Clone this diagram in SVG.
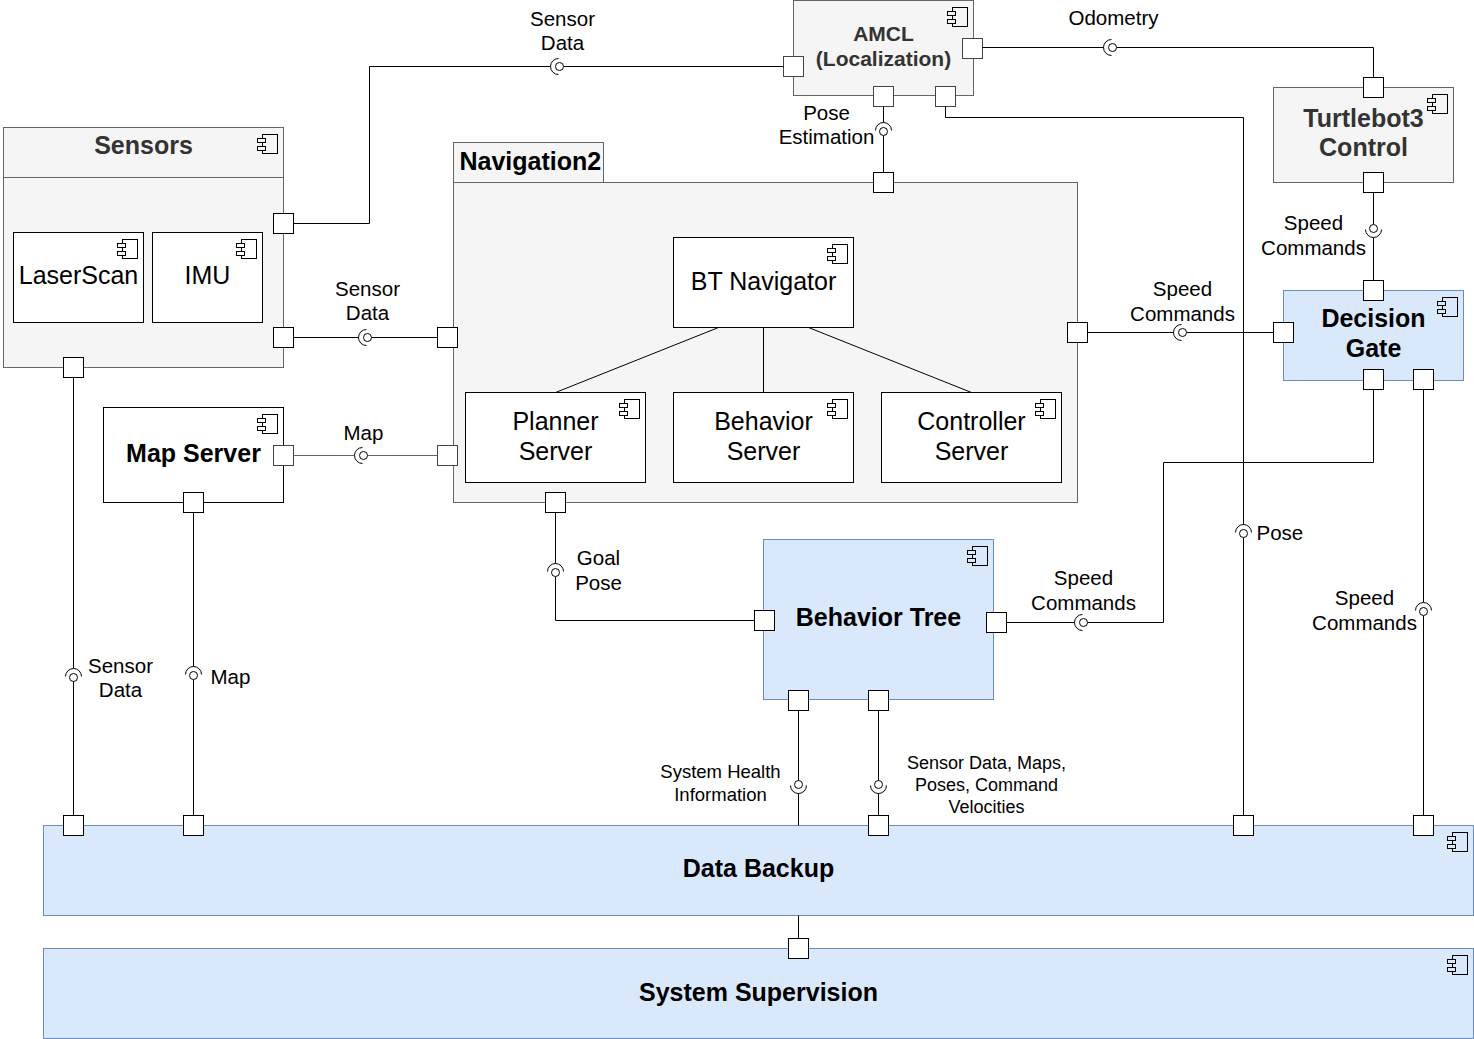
<svg xmlns="http://www.w3.org/2000/svg" xmlns:xlink="http://www.w3.org/1999/xlink" width="1474" height="1039" viewBox="0 0 1474 1039">
<style>
.grey{fill:#f5f5f5;stroke:#666666;stroke-width:1}
.blue{fill:#dae8fc;stroke:#6c8ebf;stroke-width:1}
.white{fill:#ffffff;stroke:#000000;stroke-width:1}
.port{fill:#ffffff;stroke:#000000;stroke-width:1}
.gport{fill:#ffffff;stroke:#444444;stroke-width:1}
.edge{fill:none;stroke:#000000;stroke-width:1}
.gedge{fill:none;stroke:#666666;stroke-width:1}
text{font-family:"Liberation Sans",Arial,Helvetica,sans-serif;text-anchor:middle;fill:#000000}
.n24{font-size:25px}
.b24{font-size:25px;font-weight:bold}
.b21{font-size:21px;font-weight:bold}
.dk{fill:#333333}
.l20{font-size:20.5px}
.l18{font-size:18.5px}
.l17{font-size:18px}
</style>
<defs>
<g id="icon">
<rect x="-21" y="7" width="15" height="19" stroke="#000000"/>
<rect x="-26" y="11" width="8" height="4" stroke="#000000"/>
<rect x="-26" y="19" width="8" height="4" stroke="#000000"/>
</g>
<g id="ifc">
<path d="M-1,-8 A8,8 0 0 0 -1,8" fill="none" stroke="#000000"/>
<circle r="4" fill="#ffffff" stroke="#000000"/>
</g>
</defs>
<rect x="0" y="0" width="1474" height="1039" fill="#ffffff"/>
<g transform="translate(0.5,0.5)">

<g id="sensors">
<rect class="grey" x="3" y="127" width="280" height="240"/>
<line x1="3" y1="177" x2="283" y2="177" stroke="#666666"/>
<text class="b24 dk" x="143" y="153">Sensors</text>
<use xlink:href="#icon" x="283" y="127" fill="#f5f5f5"/>
<rect class="port" x="273" y="213" width="20" height="20"/>
<rect class="port" x="273" y="327" width="20" height="20"/>
<rect class="port" x="63" y="357" width="20" height="20"/>
</g>
<g id="laserscan">
<rect class="white" x="13" y="232" width="130" height="90"/>
<text class="n24" x="78" y="283">LaserScan</text>
<use xlink:href="#icon" x="143" y="232" fill="#ffffff"/>
</g>
<g id="imu">
<rect class="white" x="152" y="232" width="110" height="90"/>
<text class="n24" x="207" y="283">IMU</text>
<use xlink:href="#icon" x="262" y="232" fill="#ffffff"/>
</g>

<g id="amcl">
<rect class="grey" x="793" y="0" width="180" height="95"/>
<text class="b21 dk" x="883" y="40">AMCL</text>
<text class="b21 dk" x="883" y="65">(Localization)</text>
<use xlink:href="#icon" x="973" y="0" fill="#f5f5f5"/>
<rect class="gport" x="783" y="56" width="20" height="20"/>
<rect class="gport" x="962" y="38" width="20" height="20"/>
<rect class="gport" x="873" y="86" width="20" height="20"/>
<rect class="gport" x="935" y="86" width="20" height="20"/>
</g>

<g id="turtlebot3">
<rect class="grey" x="1273" y="87" width="180" height="95"/>
<text class="b24 dk" x="1363" y="126">Turtlebot3</text>
<text class="b24 dk" x="1363" y="155">Control</text>
<use xlink:href="#icon" x="1453" y="87" fill="#f5f5f5"/>
<rect class="port" x="1363" y="77" width="20" height="20"/>
<rect class="port" x="1363" y="172" width="20" height="20"/>
</g>

<g id="navigation2">
<rect class="grey" x="453" y="142" width="150" height="40"/>
<rect class="grey" x="453" y="182" width="624" height="320"/>
<text class="b24" x="459" y="169" style="text-anchor:start">Navigation2</text>
<rect class="port" x="873" y="172" width="20" height="20"/>
<rect class="port" x="437" y="327" width="20" height="20"/>
<rect class="gport" x="437" y="445" width="20" height="20"/>
<rect class="port" x="1067" y="322" width="20" height="20"/>
<rect class="port" x="545" y="492" width="20" height="20"/>
</g>
<g id="bt-navigator">
<rect class="white" x="673" y="237" width="180" height="90"/>
<text class="n24" x="763" y="289">BT Navigator</text>
<use xlink:href="#icon" x="853" y="237" fill="#ffffff"/>
</g>
<g id="planner-server">
<rect class="white" x="465" y="392" width="180" height="90"/>
<text class="n24" x="555" y="429">Planner</text>
<text class="n24" x="555" y="459">Server</text>
<use xlink:href="#icon" x="645" y="392" fill="#ffffff"/>
</g>
<g id="behavior-server">
<rect class="white" x="673" y="392" width="180" height="90"/>
<text class="n24" x="763" y="429">Behavior</text>
<text class="n24" x="763" y="459">Server</text>
<use xlink:href="#icon" x="853" y="392" fill="#ffffff"/>
</g>
<g id="controller-server">
<rect class="white" x="881" y="392" width="180" height="90"/>
<text class="n24" x="971" y="429">Controller</text>
<text class="n24" x="971" y="459">Server</text>
<use xlink:href="#icon" x="1061" y="392" fill="#ffffff"/>
</g>

<g id="decision-gate">
<rect class="blue" x="1283" y="290" width="180" height="90"/>
<text class="b24" x="1373" y="326">Decision</text>
<text class="b24" x="1373" y="356">Gate</text>
<use xlink:href="#icon" x="1463" y="290" fill="#dae8fc"/>
<rect class="port" x="1363" y="280" width="20" height="20"/>
<rect class="port" x="1273" y="322" width="20" height="20"/>
<rect class="port" x="1363" y="369" width="20" height="20"/>
<rect class="port" x="1413" y="369" width="20" height="20"/>
</g>

<g id="map-server">
<rect class="white" x="103" y="407" width="180" height="95"/>
<text class="b24" x="193" y="461">Map Server</text>
<use xlink:href="#icon" x="283" y="407" fill="#ffffff"/>
<rect class="gport" x="273" y="445" width="20" height="20"/>
<rect class="port" x="183" y="492" width="20" height="20"/>
</g>

<g id="behavior-tree">
<rect class="blue" x="763" y="539" width="230" height="160"/>
<text class="b24" x="878" y="625">Behavior Tree</text>
<use xlink:href="#icon" x="993" y="539" fill="#dae8fc"/>
<rect class="port" x="754" y="610" width="20" height="20"/>
<rect class="port" x="986" y="612" width="20" height="20"/>
<rect class="port" x="788" y="690" width="20" height="20"/>
<rect class="port" x="868" y="690" width="20" height="20"/>
</g>

<g id="data-backup">
<rect class="blue" x="43" y="825" width="1430" height="90"/>
<text class="b24" x="758" y="876">Data Backup</text>
<use xlink:href="#icon" x="1473" y="825" fill="#dae8fc"/>
<rect class="port" x="63" y="815" width="20" height="20"/>
<rect class="port" x="183" y="815" width="20" height="20"/>
<rect class="port" x="868" y="815" width="20" height="20"/>
<rect class="port" x="1233" y="815" width="20" height="20"/>
<rect class="port" x="1413" y="815" width="20" height="20"/>
</g>

<g id="system-supervision">
<rect class="blue" x="43" y="948" width="1430" height="90"/>
<text class="b24" x="758" y="1000">System Supervision</text>
<use xlink:href="#icon" x="1473" y="948" fill="#dae8fc"/>
<rect class="port" x="788" y="938" width="20" height="20"/>
</g>

<g id="connectors">
<path class="edge" d="M718,327 L555,392 M763,327 V392 M808,327 L971,392"/>

<path class="edge" d="M293,223 H369 V66 H550 M563,66 H783"/>
<use xlink:href="#ifc" transform="translate(559,66)"/>
<text class="l20" x="562" y="25">Sensor</text>
<text class="l20" x="562" y="49">Data</text>

<path class="edge" d="M293,337 H358 M371,337 H437"/>
<use xlink:href="#ifc" transform="translate(367,337)"/>
<text class="l20" x="367" y="295">Sensor</text>
<text class="l20" x="367" y="319">Data</text>

<path class="gedge" d="M293,455 H354 M367,455 H437"/>
<use xlink:href="#ifc" transform="translate(363,455)"/>
<text class="l20" x="363" y="439">Map</text>

<path class="edge" d="M982,47 H1103 M1116,47 H1373 V77"/>
<use xlink:href="#ifc" transform="translate(1112,47)"/>
<text class="l20" x="1113" y="24">Odometry</text>

<path class="edge" d="M883,106 V122 M883,135 V172"/>
<use xlink:href="#ifc" transform="translate(883,131) rotate(90)"/>
<text class="l20" x="826" y="119">Pose</text>
<text class="l20" x="826" y="143">Estimation</text>

<path class="edge" d="M945,106 V117 H1243 V524 M1243,537 V815"/>
<use xlink:href="#ifc" transform="translate(1243,533) rotate(90)"/>
<text class="l20" x="1256" y="539" style="text-anchor:start">Pose</text>

<path class="edge" d="M1373,192 V224 M1373,237 V280"/>
<use xlink:href="#ifc" transform="translate(1373,228) rotate(-90)"/>
<text class="l20" x="1313" y="229">Speed</text>
<text class="l20" x="1313" y="254">Commands</text>

<path class="edge" d="M1087,332 H1173 M1186,332 H1273"/>
<use xlink:href="#ifc" transform="translate(1182,332)"/>
<text class="l20" x="1182" y="295">Speed</text>
<text class="l20" x="1182" y="320">Commands</text>

<path class="edge" d="M555,512 V563 M555,576 V620 H754"/>
<use xlink:href="#ifc" transform="translate(555,572) rotate(90)"/>
<text class="l20" x="598" y="564">Goal</text>
<text class="l20" x="598" y="589">Pose</text>

<path class="edge" d="M1373,389 V462 H1163 V622 H1087 M1074,622 H1006"/>
<use xlink:href="#ifc" transform="translate(1083,622)"/>
<text class="l20" x="1083" y="584">Speed</text>
<text class="l20" x="1083" y="609">Commands</text>

<path class="edge" d="M1423,389 V602 M1423,615 V815"/>
<use xlink:href="#ifc" transform="translate(1423,611) rotate(90)"/>
<text class="l20" x="1364" y="604">Speed</text>
<text class="l20" x="1364" y="629">Commands</text>

<path class="edge" d="M73,377 V668 M73,681 V815"/>
<use xlink:href="#ifc" transform="translate(73,677) rotate(90)"/>
<text class="l20" x="120" y="672">Sensor</text>
<text class="l20" x="120" y="696">Data</text>

<path class="edge" d="M193,512 V666 M193,679 V815"/>
<use xlink:href="#ifc" transform="translate(193,675) rotate(90)"/>
<text class="l20" x="210" y="683" style="text-anchor:start">Map</text>

<path class="edge" d="M798,710 V780 M798,793 V825"/>
<use xlink:href="#ifc" transform="translate(798,784) rotate(-90)"/>
<text class="l18" x="720" y="777">System Health</text>
<text class="l18" x="720" y="800">Information</text>

<path class="edge" d="M878,710 V780 M878,793 V815"/>
<use xlink:href="#ifc" transform="translate(878,784) rotate(-90)"/>
<text class="l17" x="986" y="768">Sensor Data, Maps,</text>
<text class="l17" x="986" y="790">Poses, Command</text>
<text class="l17" x="986" y="812">Velocities</text>

<path class="edge" d="M798,915 V938"/>
</g>
</g>
</svg>
